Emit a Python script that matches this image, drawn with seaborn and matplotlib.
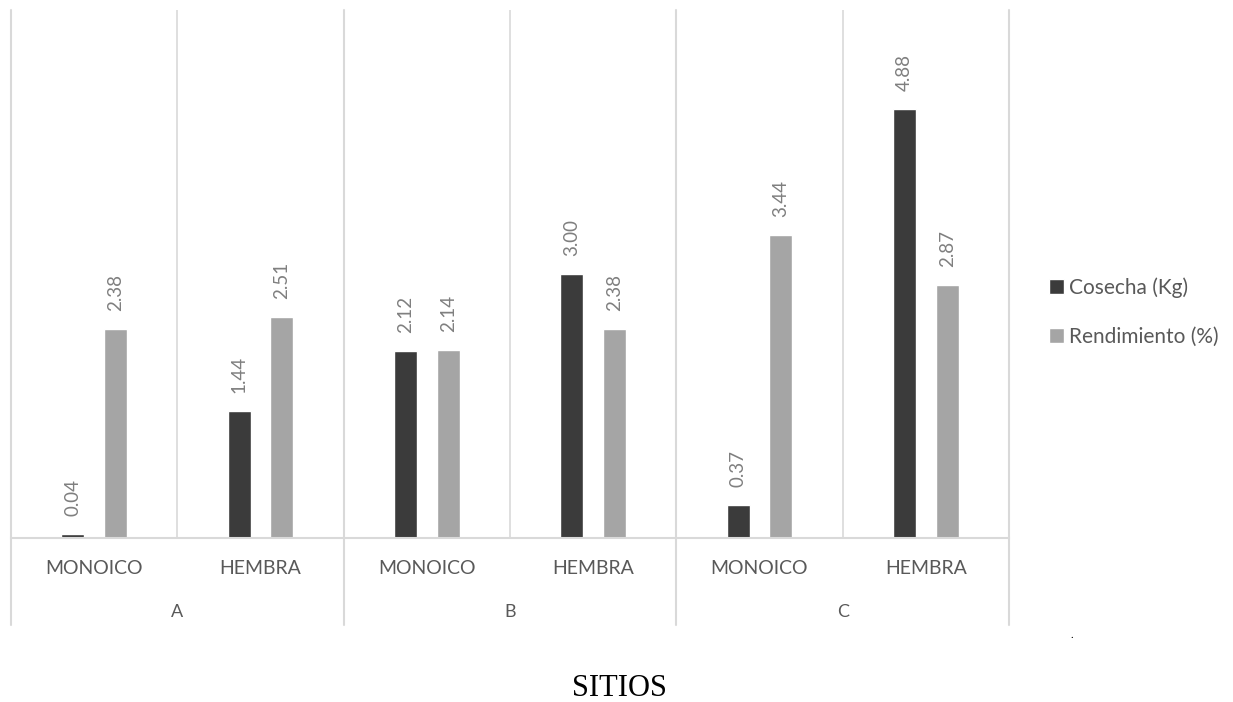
import matplotlib
matplotlib.use("Agg")
import matplotlib.pyplot as plt
import matplotlib.transforms as mtransforms
import pandas as pd
import seaborn as sns

# values
sitios = ["A", "A", "B", "B", "C", "C"]
sexo = ["MONOICO", "HEMBRA", "MONOICO", "HEMBRA", "MONOICO", "HEMBRA"]
cosecha = [0.04, 1.44, 2.12, 3.00, 0.37, 4.88]
rendimiento = [2.38, 2.51, 2.14, 2.38, 3.44, 2.87]
series = ["Cosecha (Kg)", "Rendimiento (%)"]

pos = [f"{s}-{x}" for s, x in zip(sitios, sexo)]
df = pd.DataFrame({
    "pos": pos * 2,
    "serie": [series[0]] * 6 + [series[1]] * 6,
    "valor": cosecha + rendimiento,
})

sns.set_theme(style="white")
plt.rcParams["font.family"] = ["Lato", "DejaVu Sans"]

dark = "#3b3b3b"
gray = "#a5a5a5"
grid = "#d9d9d9"
txt = "#595959"

fig = plt.figure(figsize=(12.33, 7.02), dpi=100)
ax = fig.add_axes([11 / 1233, 1 - 538 / 702, 998 / 1233, 528 / 702])

sns.barplot(data=df, x="pos", y="valor", hue="serie", order=pos,
            palette=[dark, gray], width=0.516, gap=0.465, errorbar=None,
            saturation=1, ax=ax)

ax.set_xlim(-0.5, 5.5)
ax.set_ylim(0, 6)
ax.set_xlabel("")
ax.set_ylabel("")
ax.set_yticks([])
for side in ["top", "right", "left"]:
    ax.spines[side].set_visible(False)
ax.spines["bottom"].set_color(grid)
ax.spines["bottom"].set_linewidth(1.5)

ax.set_xticks(range(6))
ax.set_xticklabels(sexo, color=txt, fontsize=14)
ax.tick_params(axis="x", length=0, pad=16)

# separators: inside groups stop at the axis, group edges run down
for i in [0.5, 2.5, 4.5]:
    ax.axvline(i, color=grid, lw=1.2, zorder=0)
for i in [-0.5, 1.5, 3.5, 5.5]:
    ax.axvline(i, ymin=-0.165, ymax=1, color=grid, lw=1.5, zorder=0, clip_on=False)

trans = mtransforms.blended_transform_factory(ax.transData, ax.transAxes)
for i, g in enumerate(["A", "B", "C"]):
    ax.text(2 * i + 0.5, -0.14, g, transform=trans, ha="center", va="center",
            color=txt, fontsize=13)

for cont in ax.containers:
    ax.bar_label(cont, fmt="{:.2f}", rotation=90, padding=13,
                 color="#7f7f7f", fontsize=13.5)

handles, labels = ax.get_legend_handles_labels()
ax.legend(handles, labels, loc="center left",
          bbox_to_anchor=(1030 / 1233, 1 - 312 / 702),
          bbox_transform=fig.transFigure, frameon=False,
          handlelength=0.75, handleheight=0.75, handletextpad=0.2,
          labelspacing=1.4, fontsize=15, labelcolor=txt)

fig.text(619 / 1233, 1 - 688 / 702, "SITIOS", family="Liberation Serif",
         fontsize=22, ha="center", va="center", color="black")
fig.text(1072 / 1233, 1 - 640 / 702, ".", fontsize=8, ha="center",
         va="bottom", color="black")

fig.savefig("out.png", dpi=100)
